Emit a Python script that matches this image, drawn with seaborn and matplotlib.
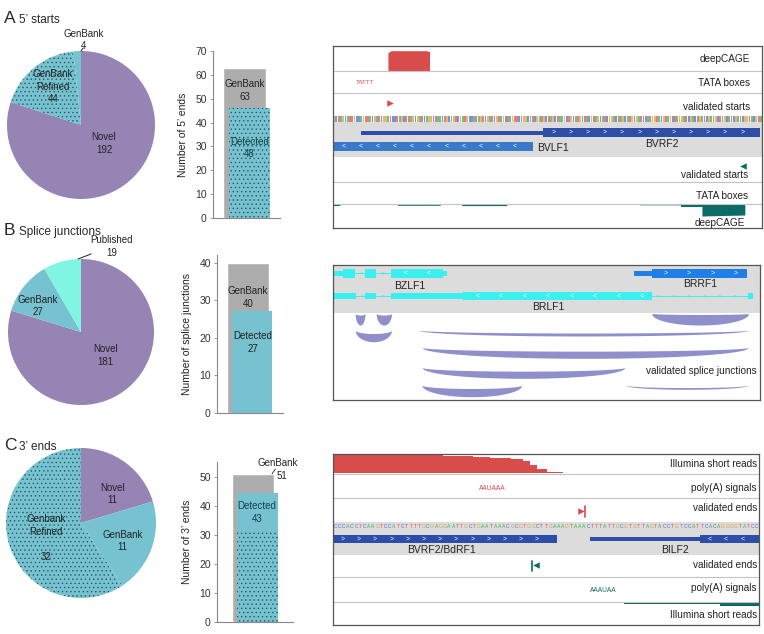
import numpy as np
import matplotlib
matplotlib.use("Agg")
import matplotlib.pyplot as plt
import seaborn as sns

# plot style
sns.set_style("white")
plt.rcParams['font.family'] = ['Liberation Sans', 'DejaVu Sans']
plt.rcParams['hatch.linewidth'] = 0.45

W, H = 764, 634

# ---------- data: pies ----------
pie_a_labels = ["Novel\n192", "GenBank\nRefined\n44", "GenBank\n4"]
pie_a_values = [192, 44, 4]
pie_b_labels = ["Novel\n181", "GenBank\n27", "Published\n19"]
pie_b_values = [181, 27, 19]
pie_c_labels = ["Novel\n11", "GenBank\n11", "Genbank\nRefined\n\n32"]
pie_c_values = [11, 11, 32]

# ---------- data: bars ----------
bar_genbank = [63, 40, 51]
bar_detected = [48, 27, 43]               # numbers printed on the bars
bar_detected_top = [46, 27, 44.5]         # bar tops as drawn
bar_detected_dotted = [46, 0, 31]         # dotted (refined) part of the detected bar
bar_ylabels = ["Number of 5’ ends", "Number of splice junctions", "Number of 3’ ends"]
bar_ymax = [70, 42, 55]
bar_yticks = [[0, 10, 20, 30, 40, 50, 60, 70], [0, 10, 20, 30, 40], [0, 10, 20, 30, 40, 50]]

# ---------- data: browser A (x in % of window) ----------
a_cage_x = [12.8, 12.8, 13.5, 21.8, 22.5, 22.5]
a_cage_h = [0, 18, 20, 20, 19, 0]
a_tata_fwd = [(7.5, "TATTT")]
a_start_fwd = [13.3]
a_start_rev = [95.6]
a_seq = ("GCTAGCATTGCCAGTTACGATCGGATCCTAGCTTAGCGATCAGGCTAACTGCAGTCGATGCCATAGTCGATCGTAGCTAG"
         "TTCAGGCATCGATGCTAGCTAAGCTGCATGCTACGTAGCATCGGACTAGCATGCGATCCATGGTACGTAGCTAGGATCG"
         "ACTGATCGATGCTAGCATCGATCGGTACGTA")
a_genes = [  # name, start, end, utr_end, strand, row, color
    ("BVRF2", 6.5, 99.5, 49.0, 1, 0, "#2E4DA7"),
    ("BVLF1", 0.0, 46.6, 0.0, -1, 1, "#3A78C8"),
]
a_cage_rev_x = [0, 0, 1.6, 1.6, 15, 15, 25, 25, 30, 30, 40.5, 40.5, 71.5, 71.5, 81, 81, 86, 86, 96, 96]
a_cage_rev_h = [0, 1.5, 1.5, 0, 0, 1.3, 1.3, 0, 0, 1.6, 1.6, 0, 0, 0.8, 0.8, 2.5, 2.5, 12, 11, 0]

# ---------- data: browser B ----------
b_bzlf1 = [(0.2, 2.4, "u"), (2.4, 5.2, "c"), (7.5, 10.1, "c"), (13.7, 25.8, "c"), (25.8, 26.6, "u")]
b_brlf1 = [(0.2, 5.4, "u"), (7.5, 10.1, "u"), (13.7, 30.5, "u"), (30.5, 74.6, "c"), (97.3, 98.4, "u")]
b_brrf1 = [(70.5, 74.6, "u"), (74.6, 96.9, "c")]
b_junctions = [  # start, end, top, depth, top dip fraction
    (5.2, 7.5, 48.3, 11.7, 0.15),
    (10.1, 13.7, 48.3, 11.7, 0.15),
    (5.2, 13.7, 65.0, 11.7, 0.3),
    (74.6, 97.3, 48.3, 11.7, 0.1),
    (20.0, 97.3, 65.0, 6.0, 0.5),
    (20.8, 97.3, 82.3, 11.0, 0.35),
    (20.8, 68.4, 102.3, 11.0, 0.35),
    (20.8, 44.2, 120.0, 11.7, 0.3),
    (68.4, 97.3, 120.0, 4.3, 0.6),
]

# ---------- data: browser C ----------
c_reads_x = [0, 23.5, 25.9, 32.9, 36.9, 41.9, 44.7, 46.2, 47.8, 50.2, 54.1]
c_reads_h = [1.0, 1.0, 0.88, 0.83, 0.78, 0.72, 0.62, 0.45, 0.2, 0.08, 0.0]
c_polya_fwd = [(37.4, "AAUAAA")]
c_polya_rev = [(63.5, "AAAUAA")]
c_end_fwd = [58.1]
c_end_rev = [47.6]
c_seq = ("CCCACCTCAAGTCCATCTTTTGCGAGGAATTGCTGAATAAACGCGTGGCTTGAAAGTAAACTTTATTGCGTG"
         "TTAGTACCTGTCCATTCACAGGGGTATCC")
c_genes = [
    ("BVRF2/BdRF1", 0.0, 52.5, 52.5, 1, "#2E4DA7", 25.5),
    ("BILF2", 60.3, 100.0, 86.2, -1, "#2E4DA7", 80.3),
]
c_reads_rev_x = [47.4, 68.2, 68.2, 90.9, 90.9, 100]
c_reads_rev_h = [1.2, 1.2, 2.6, 2.6, 4.5, 4.5]

# ---------- colours ----------
purple = "#9584B4"
teal = "#76C2D0"
dots = "#24535C"
mint = "#80F5E2"
grey_bar = "#ADADAD"
red = "#D94C4C"
dteal = "#0C6B66"
lane = "#DCDCDC"
base_col = {"A": "#3FAF4F", "C": "#4A6FD0", "G": "#E0A040", "T": "#E05050"}


def rect(x0, y0, x1, y1):
    return [x0 / W, 1 - y1 / H, (x1 - x0) / W, (y1 - y0) / H]


fig = plt.figure(figsize=(W / 100, H / 100), dpi=100)

# ---------- titles ----------
for letter, txt, base in [("A", "5’ starts", 23), ("B", "Splice junctions", 235), ("C", "3’ ends", 450)]:
    fig.text(4 / W, 1 - base / H, letter, fontsize=12.5, va="baseline", ha="left")
    fig.text(19 / W, 1 - base / H, txt, fontsize=8.5, va="baseline", ha="left")


# ---------- pies ----------
def draw_pie(box, values, colors, hatched, labels, label_xy, leader=None):
    ax = fig.add_axes(rect(*box))
    wedges, _ = ax.pie(values, colors=colors, startangle=90, counterclock=False,
                       radius=1, wedgeprops=dict(linewidth=0))
    for i in hatched:
        wedges[i].set_hatch("....")
        wedges[i].set_edgecolor(dots)
        wedges[i].set_linewidth(0)
    for lab, (x, y) in zip(labels, label_xy):
        ax.text(x, y, lab, ha="center", va="center", fontsize=7, color="#222",
                linespacing=1.3, clip_on=False)
    if leader is not None:
        ax.plot(leader[0], leader[1], color="#222", lw=0.7, clip_on=False)
    ax.set_xlim(-1, 1)
    ax.set_ylim(-1, 1)
    ax.set_aspect("equal")
    ax.axis("off")


draw_pie((7, 51, 155, 199), pie_a_values, [purple, teal, teal], [1], pie_a_labels,
         [(0.31, -0.25), (-0.38, 0.52), (0.03, 1.15)], leader=([0.0, 0.03], [1.0, 1.04]))
draw_pie((8, 259, 154, 405), pie_b_values, [purple, teal, mint], [], pie_b_labels,
         [(0.34, -0.32), (-0.59, 0.36), (0.42, 1.17)], leader=([-0.04, 0.14], [1.0, 1.07]))
draw_pie((6, 448, 156, 598), pie_c_values, [purple, teal, teal], [2], pie_c_labels,
         [(0.42, 0.39), (0.55, -0.24), (-0.47, -0.2)])


# ---------- bars ----------
def draw_bar(i, box, xlim, gb_text_xy, det_text_xy):
    ax = fig.add_axes(rect(*box))
    sns.barplot(x=["GenBank"], y=[bar_genbank[i]], color=grey_bar, saturation=1,
                width=0.63, ax=ax)
    ax.bar(0.065, bar_detected_top[i], width=0.61, color=teal, linewidth=0)
    if bar_detected_dotted[i] > 0:
        ax.bar(0.065, bar_detected_dotted[i], width=0.61, color=teal, hatch="....",
               edgecolor=dots, linewidth=0)
    ax.set_xlim(*xlim)
    ax.set_ylim(0, bar_ymax[i])
    ax.set_yticks(bar_yticks[i])
    ax.set_xticks([])
    ax.set_xlabel("")
    ax.set_ylabel(bar_ylabels[i], fontsize=7.5, color="#222", labelpad=5)
    ax.tick_params(axis="y", labelsize=7.5, colors="#333", length=2.5, width=0.6, pad=2,
                   left=True)
    ax.tick_params(axis="y", color="#888")
    for s in ["top", "right"]:
        ax.spines[s].set_visible(False)
    for s in ["left", "bottom"]:
        ax.spines[s].set_color("#888")
        ax.spines[s].set_linewidth(0.8)
    if gb_text_xy is not None:
        ax.text(gb_text_xy[0], gb_text_xy[1], f"GenBank\n{bar_genbank[i]}", ha="center",
                va="center", fontsize=7, color="#222", linespacing=1.35)
    ax.text(det_text_xy[0], det_text_xy[1], f"Detected\n{bar_detected[i]}", ha="center",
            va="center", fontsize=7, color="#1b3f47" if bar_detected_dotted[i] else "#222",
            linespacing=1.35)
    return ax


draw_bar(0, (213, 51, 280, 218), (-0.47, 0.52), (0.0, 53.5), (0.07, 29.3))
draw_bar(1, (217, 255, 283, 413), (-0.47, 0.53), (0.0, 30.7), (0.07, 18.7))
axc = draw_bar(2, (217, 462, 293, 622), (-0.53, 0.59), None, (0.06, 37.7))
axc.text(0.37, 54.6, "GenBank", ha="center", va="center", fontsize=7, color="#222", clip_on=False)
axc.text(0.43, 50.3, str(bar_genbank[2]), ha="center", va="center", fontsize=7, color="#222",
         clip_on=False)
axc.plot([0.28, 0.33], [50.9, 52.6], color="#222", lw=0.6, clip_on=False)


# ---------- genome browser helpers ----------
def browser(box):
    ax = fig.add_axes(rect(*box))
    ax.set_xlim(0, 100)
    ax.set_ylim(box[3] - box[1], 0)
    ax.set_xticks([])
    ax.set_yticks([])
    for s in ax.spines.values():
        s.set_color("#555")
        s.set_linewidth(0.9)
    return ax


def sep(ax, y):
    ax.axhline(y, color="#C4C4C4", lw=0.8)


def label(ax, y, txt, x=99.2):
    ax.text(x, y, txt, ha="right", va="center", fontsize=7.2, color="#222")


def chevrons(ax, x0, x1, y, strand, step=4.0, size=5):
    for x in np.arange(x0 + step * 0.6, x1 - step * 0.3, step):
        ax.text(x, y, ">" if strand > 0 else "<", color="white", fontsize=size,
                ha="center", va="center")


def gene_parts(ax, parts, yc, color, strand, intron_marks=True):
    for k, (x0, x1, kind) in enumerate(parts):
        hh = 4.3 if kind == "c" else 2.6
        ax.fill_between([x0, x1], yc - hh, yc + hh, color=color, lw=0)
        if kind == "c" and x1 - x0 > 8:
            chevrons(ax, x0, x1, yc, strand, step=5.5)
        if k + 1 < len(parts) and parts[k + 1][0] > x1:
            nx = parts[k + 1][0]
            ax.plot([x1, nx], [yc, yc], color=color, lw=0.7)
            if intron_marks:
                for x in np.arange(x1 + 1.5, nx - 0.5, 3.6):
                    ax.text(x, yc, "<" if strand < 0 else ">", color=color, fontsize=4.5,
                            ha="center", va="center")


def sequence_stripe(ax, seq, y0, y1):
    n = len(seq)
    xs = (np.arange(n) + 0.5) * 100 / n
    ax.bar(xs, y1 - y0, bottom=y0, width=100 / n * 0.8,
           color=[base_col[b] for b in seq], alpha=0.75, linewidth=0)


# ---------- browser A ----------
ax = browser((333, 46, 762, 228))
ax.fill_between(a_cage_x, [24.7 - h for h in a_cage_h], 24.7, color=red, lw=0)
sep(ax, 24.7)
sep(ax, 47.3)
for x, t in a_tata_fwd:
    ax.text(x, 36.7, t, color=red, fontsize=4.5, ha="center", va="center", fontstretch="condensed")
ax.scatter(a_start_fwd, [57.3], marker=">", s=22, color=red, linewidths=0)
sequence_stripe(ax, a_seq, 70.0, 75.7)
ax.axhspan(75.7, 111.3, color=lane, lw=0)
for name, s, e, u, strand, row, col in a_genes:
    if row == 0:
        ax.fill_between([s, u], 84.7, 89.0, color=col, lw=0)
        ax.fill_between([u, e], 81.7, 91.3, color=col, lw=0)
        chevrons(ax, u, e, 86.5, strand, step=4.0)
        ax.text(76.7, 98.0, name, fontsize=7.5, ha="center", va="center", color="#222")
    else:
        ax.fill_between([s, e], 96.0, 105.0, color=col, lw=0)
        chevrons(ax, s, e, 100.5, strand, step=4.0)
        ax.text(e + 0.9, 102.3, name, fontsize=7.5, ha="left", va="center", color="#222")
ax.scatter(a_start_rev, [120], marker="<", s=22, color=dteal, linewidths=0)
sep(ax, 135.7)
sep(ax, 158.0)
ax.fill_between(a_cage_rev_x, 158.0, [158.0 + h for h in a_cage_rev_h], color=dteal, lw=0)
label(ax, 13.3, "deepCAGE", x=97.3)
label(ax, 37.3, "TATA boxes", x=97.3)
label(ax, 60.7, "validated starts", x=97.3)
label(ax, 129.0, "validated starts", x=96.8)
label(ax, 149.7, "TATA boxes", x=96.8)
label(ax, 176.7, "deepCAGE", x=96.0)

# ---------- browser B ----------
ax = browser((333, 265, 760, 400))
ax.axhspan(0, 48.3, color=lane, lw=0)
gene_parts(ax, b_bzlf1, 8.3, "#38F0F0", -1)
gene_parts(ax, b_brrf1, 8.3, "#1F7FE8", 1)
gene_parts(ax, b_brlf1, 31.0, "#38F0F0", -1)
ax.text(18.0, 21.0, "BZLF1", fontsize=7.5, ha="center", va="center", color="#222")
ax.text(86.0, 19.0, "BRRF1", fontsize=7.5, ha="center", va="center", color="#222")
ax.text(50.4, 41.7, "BRLF1", fontsize=7.5, ha="center", va="center", color="#222")
t = np.linspace(-1, 1, 120)
for s, e, top, depth, dip in b_junctions:
    xs = (s + e) / 2 + t * (e - s) / 2
    shape = np.sqrt(1 - t ** 2)
    ax.fill_between(xs, top + dip * depth * shape, top + depth * shape, color="#8F8FCB", lw=0)
label(ax, 105.7, "validated splice junctions", x=99.3)

# ---------- browser C ----------
ax = browser((333, 454, 759, 625))
ax.fill_between(c_reads_x, [19.3 * (1 - h) for h in c_reads_h], 19.3, color=red, lw=0, step="post")
sep(ax, 20.3)
sep(ax, 44.3)
for x, tt in c_polya_fwd:
    ax.text(x, 34.3, tt, color=red, fontsize=4.8, ha="center", va="center", fontstretch="condensed")
ax.scatter(c_end_fwd, [56.7], marker=">", s=22, color=red, linewidths=0)
ax.plot([c_end_fwd[0] + 1.1] * 2, [51.7, 62.7], color=red, lw=1.2)
ax.axhspan(67.7, 101.0, color=lane, lw=0)
n = len(c_seq)
for k, b in enumerate(c_seq):
    ax.text((k + 0.5) * 100 / n, 72.3, b, color=base_col[b], fontsize=3.6, ha="center",
            va="center", fontstretch="condensed")
for name, s, e, u, strand, col, lx in c_genes:
    if strand > 0:
        ax.fill_between([s, e], 81.0, 89.3, color=col, lw=0)
        chevrons(ax, s, e - 2, 85.2, strand, step=3.8)
    else:
        ax.fill_between([s, u], 83.0, 87.3, color=col, lw=0)
        ax.fill_between([u, e], 81.0, 89.3, color=col, lw=0)
        chevrons(ax, u, e, 85.2, strand, step=3.8)
    ax.text(lx, 96.0, name, fontsize=7.5, ha="center", va="center", color="#222")
ax.plot([c_end_rev[0] - 0.8] * 2, [106.7, 116.7], color=dteal, lw=1.2)
ax.scatter(c_end_rev, [111.0], marker="<", s=22, color=dteal, linewidths=0)
sep(ax, 122.7)
for x, tt in c_polya_rev:
    ax.text(x, 136.0, tt, color=dteal, fontsize=4.8, ha="center", va="center", fontstretch="condensed")
ax.axhline(147.7, color="#C4C4C4", lw=0.8)
ax.fill_between(c_reads_rev_x, 147.7, [147.7 + h for h in c_reads_rev_h], color=dteal, lw=0)
label(ax, 10.0, "Illumina short reads", x=99.5)
label(ax, 34.3, "poly(A) signals", x=99.5)
label(ax, 54.3, "validated ends", x=99.5)
label(ax, 111.0, "validated ends", x=99.5)
label(ax, 134.3, "poly(A) signals", x=99.5)
label(ax, 161.0, "Illumina short reads", x=99.5)

fig.savefig("out.png", dpi=100)
